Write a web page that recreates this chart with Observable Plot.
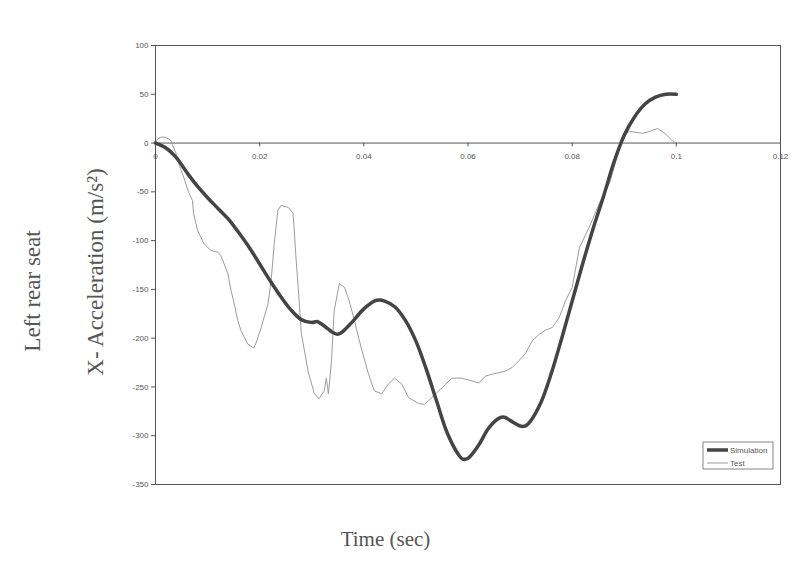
<!DOCTYPE html>
<html>
<head>
<meta charset="utf-8">
<script src="https://cdn.jsdelivr.net/npm/d3@7"></script>
<script src="https://cdn.jsdelivr.net/npm/@observablehq/plot@0.6"></script>
<style>
  html, body { margin: 0; padding: 0; background: #fff; }
  #chart { width: 804px; height: 571px; }
</style>
</head>
<body>
<div id="chart"></div>
<script>
// ---- Data ----
const simTime = [0, 0.002, 0.004, 0.006, 0.008, 0.010, 0.012, 0.014, 0.016, 0.018, 0.020, 0.022, 0.024, 0.026, 0.028, 0.030, 0.031, 0.032, 0.034, 0.035, 0.036, 0.038, 0.040, 0.042, 0.043, 0.044, 0.046, 0.048, 0.050, 0.052, 0.054, 0.056, 0.058, 0.059, 0.060, 0.062, 0.064, 0.066, 0.067, 0.068, 0.070, 0.071, 0.072, 0.074, 0.076, 0.078, 0.080, 0.082, 0.084, 0.086, 0.088, 0.090, 0.092, 0.094, 0.096, 0.098, 0.100];
const simAccel = [0, -5, -15, -30, -44, -56, -67, -78, -92, -107, -124, -141, -157, -171, -181, -184, -183, -186, -194, -196, -193, -182, -170, -162, -161, -162, -168, -182, -203, -232, -265, -297, -318, -324, -323, -310, -292, -282, -281, -284, -290, -290, -285, -266, -236, -200, -162, -124, -88, -55, -20, 8, 27, 40, 47, 50, 50];

const testTime = [0, 0.0004, 0.001, 0.0019, 0.0029, 0.0039, 0.0048, 0.0054, 0.0064, 0.0071, 0.0073, 0.0081, 0.0093, 0.0106, 0.012, 0.0125, 0.0129, 0.0139, 0.0145, 0.015, 0.0158, 0.0164, 0.0177, 0.0189, 0.0193, 0.0203, 0.0212, 0.0216, 0.0222, 0.0228, 0.0235, 0.0241, 0.0255, 0.0264, 0.0266, 0.027, 0.0274, 0.028, 0.0293, 0.0305, 0.0314, 0.0324, 0.0328, 0.0332, 0.0338, 0.0343, 0.0353, 0.0363, 0.0372, 0.0382, 0.0395, 0.0409, 0.042, 0.0434, 0.0447, 0.0459, 0.0473, 0.0486, 0.0505, 0.0517, 0.053, 0.055, 0.0569, 0.0588, 0.0608, 0.0621, 0.0633, 0.0646, 0.0671, 0.0685, 0.0698, 0.071, 0.0723, 0.0737, 0.0748, 0.0762, 0.0775, 0.0787, 0.08, 0.0814, 0.0833, 0.0852, 0.0872, 0.0884, 0.0893, 0.09, 0.091, 0.0935, 0.0949, 0.0964, 0.098, 0.0993, 0.0999];
const testAccel = [0, 4, 6, 6, 3, -10, -26, -35, -51, -59, -72, -90, -103, -110, -112, -115, -120, -134, -151, -162, -182, -192, -206, -210, -205, -189, -172, -165, -141, -103, -69, -64, -66, -72, -86, -120, -148, -195, -234, -257, -262, -254, -241, -257, -223, -172, -144, -148, -162, -182, -210, -237, -254, -257, -247, -241, -247, -261, -267, -268, -261, -251, -241, -241, -244, -246, -239, -237, -234, -230, -223, -216, -203, -196, -192, -189, -179, -162, -148, -107, -86, -62, -41, -18, 0, 8, 12, 10, 12, 15, 9, 2, 0];

const xTicks = [0, 0.02, 0.04, 0.06, 0.08, 0.1, 0.12];
const yTicks = [100, 50, 0, -50, -100, -150, -200, -250, -300, -350];
const seriesNames = ["Simulation", "Test"];
const yLabel = "X- Acceleration (m/s²)";
const sideLabel = "Left rear seat";
const xLabel = "Time (sec)";

// ---- Build rows ----
const sim = simTime.map((t, i) => ({t, v: simAccel[i]}));
const test = testTime.map((t, i) => ({t, v: testAccel[i]}));

const serif = "'Liberation Serif', 'Times New Roman', serif";
const sans = "'Liberation Sans', Arial, sans-serif";

const chart = Plot.plot({
  width: 804,
  height: 571,
  marginLeft: 155,
  marginRight: 24,
  marginTop: 45,
  marginBottom: 87,
  style: {background: "#fff", overflow: "visible"},
  x: {domain: [0, 0.12], axis: null},
  y: {domain: [-350, 100]},
  marks: [
    Plot.frame({stroke: "#555", strokeWidth: 1}),
    Plot.ruleY([0], {stroke: "#555", strokeWidth: 1}),
    Plot.axisY({ticks: yTicks, tickSize: 4, tickPadding: 3, fontSize: 8, fontFamily: sans, fill: "#555", stroke: "#555", label: null, tickFormat: d => String(d)}),
    Plot.ruleX(xTicks, {x: d => d, y1: 0, y2: -4, stroke: "#555"}),
    Plot.text(xTicks, {x: d => d, y: 0, dy: 13, text: d => String(d), fontSize: 8, fontFamily: sans, fill: "#555"}),
    Plot.line(test, {x: "t", y: "v", stroke: "#9c9c9c", strokeWidth: 1}),
    Plot.line(sim, {x: "t", y: "v", stroke: "#444", strokeWidth: 3.5, curve: "catmull-rom"}),
    Plot.text([yLabel], {frameAnchor: "left", textAnchor: "middle", dx: -60, dy: 7, rotate: -90, fontSize: 23, fontFamily: serif, fill: "#555", letterSpacing: 1}),
    Plot.text([sideLabel], {frameAnchor: "left", textAnchor: "middle", dx: -123, dy: 26, rotate: -90, fontSize: 23, fontFamily: serif, fill: "#555"}),
    Plot.text([xLabel], {frameAnchor: "bottom-left", textAnchor: "middle", dx: 230, dy: 61, fontSize: 21, fontFamily: serif, fill: "#555"})
  ]
});
document.getElementById("chart").appendChild(chart);

// ---- Legend box (bottom-right inside frame) ----
const svg = d3.select(chart);
const lg = svg.append("g").attr("transform", "translate(703,442)");
lg.append("rect").attr("width", 70).attr("height", 27).attr("fill", "#fff").attr("stroke", "#666").attr("stroke-width", 0.8);
const legendStyles = [{stroke: "#444", w: 3.5}, {stroke: "#9c9c9c", w: 1}];
seriesNames.forEach((name, i) => {
  const y = 8 + i * 13;
  lg.append("line").attr("x1", 4).attr("x2", 25).attr("y1", y).attr("y2", y)
    .attr("stroke", legendStyles[i].stroke).attr("stroke-width", legendStyles[i].w);
  lg.append("text").attr("x", 27).attr("y", y + 3).text(name)
    .attr("text-anchor", "start")
    .attr("font-size", 8).attr("font-family", sans).attr("fill", "#555");
});
</script>
</body>
</html>
